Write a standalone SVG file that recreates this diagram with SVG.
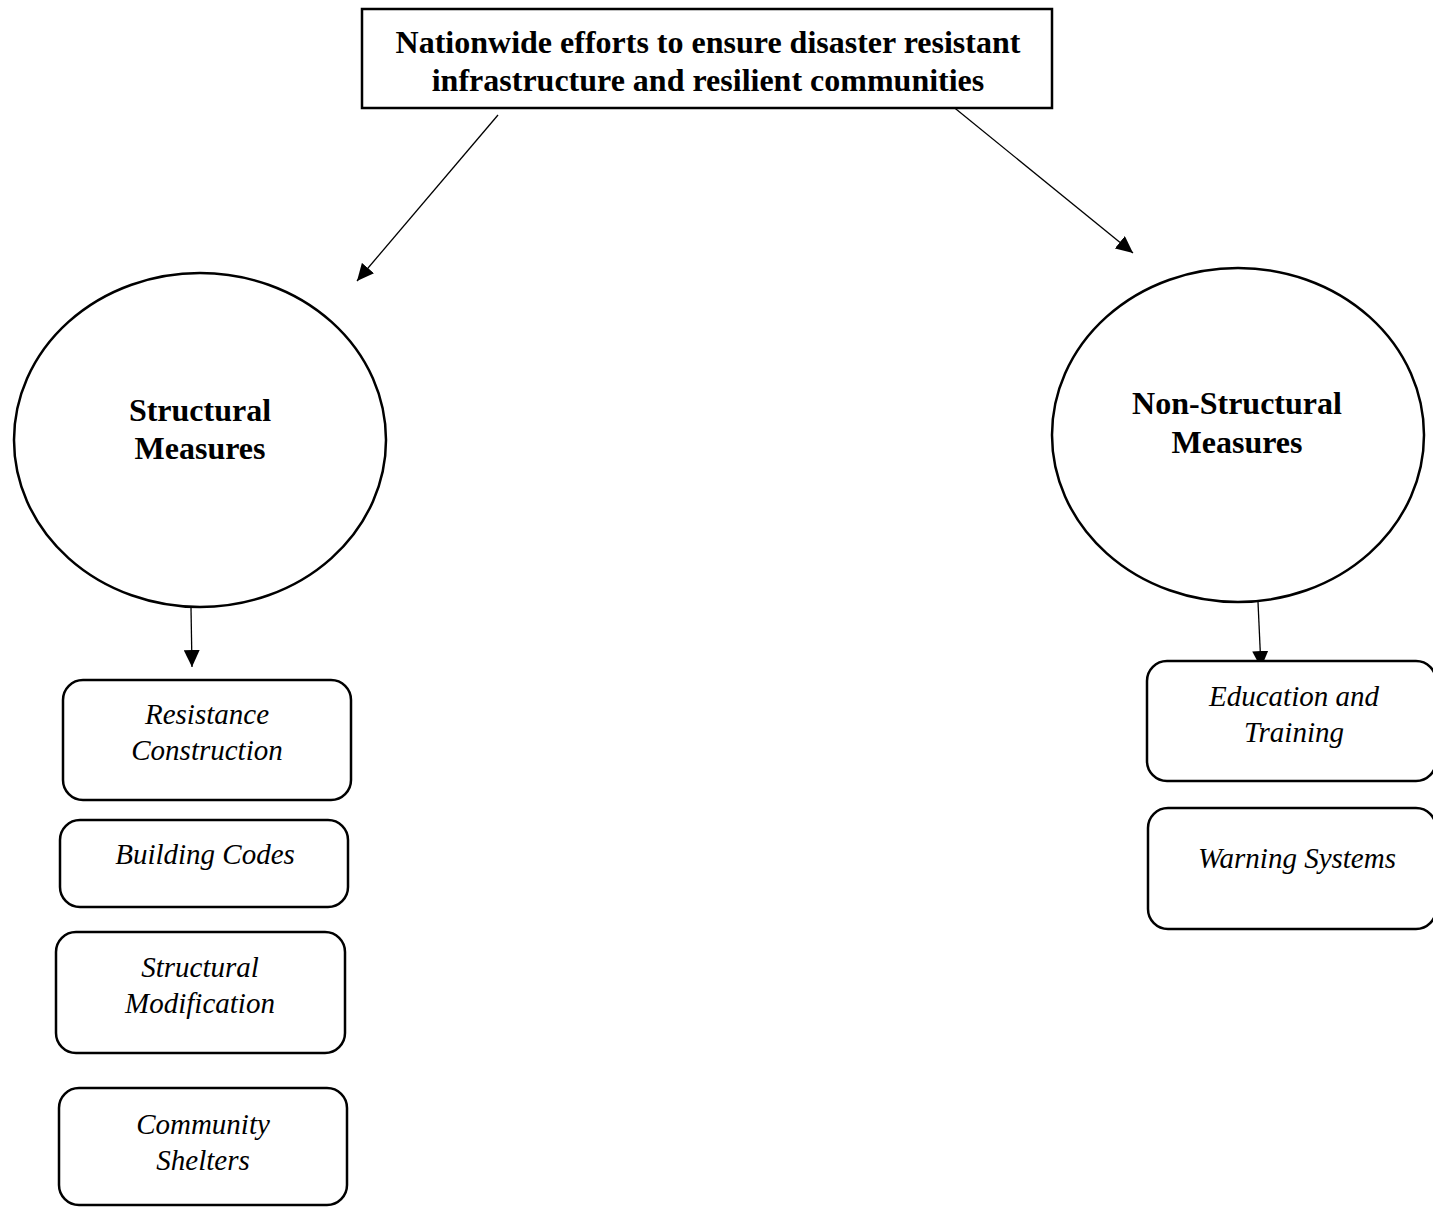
<svg xmlns="http://www.w3.org/2000/svg" width="1433" height="1207" viewBox="0 0 1433 1207">
  <style>
    .box { fill: #fff; stroke: #000; stroke-width: 2.5; }
    .head { font-family: "Liberation Serif", "Times New Roman", serif; font-weight: bold; font-size: 32px; fill: #000; text-anchor: middle; }
    .item { font-family: "Liberation Serif", "Times New Roman", serif; font-style: italic; font-size: 29px; fill: #000; text-anchor: middle; }
    .link { stroke: #000; stroke-width: 1.3; fill: none; marker-end: url(#arrow); }
  </style>
  <defs>
    <marker id="arrow" markerUnits="userSpaceOnUse" markerWidth="18" markerHeight="16" refX="17" refY="8" orient="auto">
      <path d="M0,0 L17,8 L0,16 Z" fill="#000"/>
    </marker>
  </defs>
  <rect width="1433" height="1207" fill="#fff"/>

  <g id="connectors">
    <line class="link" x1="498" y1="115" x2="357" y2="281"/>
    <line class="link" x1="951" y1="105" x2="1133" y2="253"/>
    <line class="link" x1="191" y1="608" x2="192" y2="667"/>
    <line class="link" x1="1258" y1="602" x2="1261" y2="668"/>
  </g>

  <g id="root">
    <rect class="box" x="362" y="9" width="690" height="99"/>
    <text class="head" x="708" y="53">Nationwide efforts to ensure disaster resistant</text>
    <text class="head" x="708" y="91">infrastructure and resilient communities</text>
  </g>

  <g id="structural">
    <ellipse class="box" cx="200" cy="440" rx="186" ry="167"/>
    <text class="head" x="200" y="421">Structural</text>
    <text class="head" x="200" y="459">Measures</text>
  </g>

  <g id="non-structural">
    <ellipse class="box" cx="1238" cy="435" rx="186" ry="167"/>
    <text class="head" x="1237" y="414">Non-Structural</text>
    <text class="head" x="1237" y="453">Measures</text>
  </g>

  <g id="resistance-construction">
    <rect class="box" x="63" y="680" width="288" height="120" rx="20"/>
    <text class="item" x="207" y="724">Resistance</text>
    <text class="item" x="207" y="760">Construction</text>
  </g>

  <g id="building-codes">
    <rect class="box" x="60" y="820" width="288" height="87" rx="20"/>
    <text class="item" x="205" y="864">Building Codes</text>
  </g>

  <g id="structural-modification">
    <rect class="box" x="56" y="932" width="289" height="121" rx="20"/>
    <text class="item" x="200" y="977">Structural</text>
    <text class="item" x="200" y="1013">Modification</text>
  </g>

  <g id="community-shelters">
    <rect class="box" x="59" y="1088" width="288" height="117" rx="20"/>
    <text class="item" x="203" y="1134">Community</text>
    <text class="item" x="203" y="1170">Shelters</text>
  </g>

  <g id="education-training">
    <rect class="box" x="1147" y="661" width="289" height="120" rx="20"/>
    <text class="item" x="1294" y="706">Education and</text>
    <text class="item" x="1294" y="742">Training</text>
  </g>

  <g id="warning-systems">
    <rect class="box" x="1148" y="808" width="288" height="121" rx="20"/>
    <text class="item" x="1297" y="868">Warning Systems</text>
  </g>
</svg>
